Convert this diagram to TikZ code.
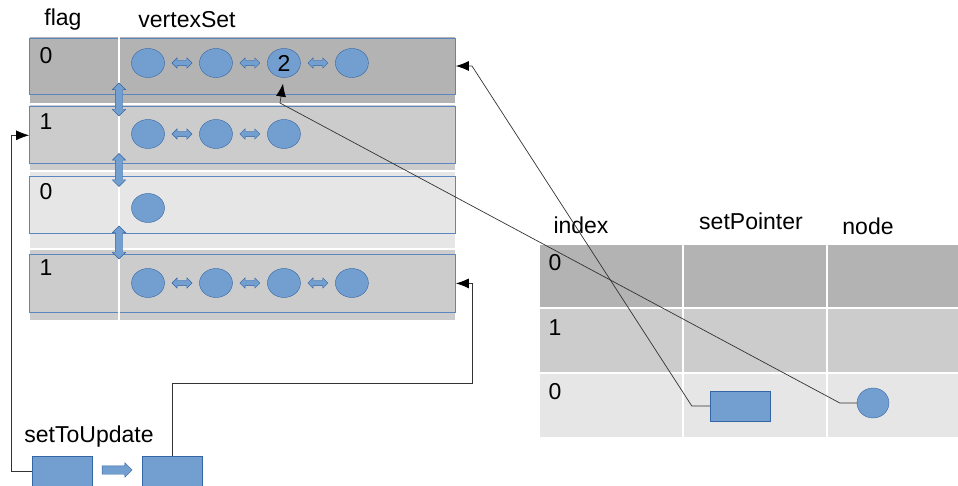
\documentclass[tikz,border=0pt]{standalone}
\usepackage{fontspec}
\setmainfont{Liberation Sans}
\usetikzlibrary{positioning,shapes.geometric,shapes.arrows,arrows.meta}

\definecolor{cellA}{HTML}{B3B3B3}
\definecolor{cellB}{HTML}{CCCCCC}
\definecolor{cellC}{HTML}{E6E6E6}
\definecolor{vfill}{HTML}{729FCF}
\definecolor{vline}{HTML}{3465A4}
\definecolor{rowline}{HTML}{5B86BF}

\tikzset{
  vtx/.style={ellipse, draw=vline, fill=vfill, minimum width=33pt, minimum height=29pt, inner sep=0pt},
  dbl/.style={double arrow, draw=vline, fill=vfill, minimum height=20pt, inner xsep=0pt, inner ysep=2.5pt,
              double arrow head extend=2.5pt},
  vdbl/.style={dbl, minimum height=33pt, inner ysep=3.5pt, double arrow head extend=3pt, rotate=90},
  rowbox/.style={draw=rowline, line width=0.8pt, minimum width=426pt, inner sep=0pt},
  blk/.style={rectangle, draw=vline, fill=vfill, minimum width=60pt, minimum height=30pt, inner sep=0pt},
  lbl/.style={font=\fontsize{23}{26}\selectfont, inner sep=0pt},
  conn/.style={draw=black!80, line width=0.7pt},
  tip/.style={-{Latex[length=13pt,width=10pt,black]}}
}

\begin{document}
\begin{tikzpicture}[x=1pt,y=-1pt,font=\fontsize{23}{26}\selectfont]
\useasboundingbox (0,0) rectangle (958,486);

% left table behind the rows
\fill[cellA] (30,37) rectangle (455,104);
\fill[cellB] (30,104) rectangle (455,171);
\fill[cellC] (30,171) rectangle (455,249);
\fill[cellB] (30,249) rectangle (455,320);
\draw[white, line width=1.5pt] (30,104) -- (455,104) (30,171) -- (455,171) (30,249) -- (455,249);

\node[lbl] (hflag) at (63,20) {flag};
\node[lbl] (hset)  at (187,20) {vertexSet};

% rows
\node[rowbox, fill=cellA, minimum height=56pt] (row0) at (242.5,66) {};
\node[rowbox, fill=cellB, minimum height=57pt, below=12pt of row0] (row1) {};
\node[rowbox, fill=cellC, minimum height=57pt, below=12pt of row1] (row2) {};
\node[rowbox, fill=cellB, minimum height=58pt, below=20pt of row2] (row3) {};
\draw[white, line width=1.2pt] (119,37) -- (119,320);

\node[lbl] (f0) at (46,56)  {0};
\node[lbl] (f1) at (46,122) {1};
\node[lbl] (f2) at (46,192) {0};
\node[lbl] (f3) at (46,268) {1};

% vertex lists
\node[vtx] (v00) at (148,63) {};
\node[dbl, right=7pt of v00] (a00) {};
\node[vtx, right=7pt of a00] (v01) {};
\node[dbl, right=7pt of v01] (a01) {};
\node[vtx, right=7pt of a01] (v02) {2};
\node[dbl, right=7pt of v02] (a02) {};
\node[vtx, right=7pt of a02] (v03) {};

\node[vtx] (v10) at (148,134) {};
\node[dbl, right=7pt of v10] (a10) {};
\node[vtx, right=7pt of a10] (v11) {};
\node[dbl, right=7pt of v11] (a11) {};
\node[vtx, right=7pt of a11] (v12) {};

\node[vtx] (v20) at (148,208) {};

\node[vtx] (v30) at (148,283) {};
\node[dbl, right=7pt of v30] (a30) {};
\node[vtx, right=7pt of a30] (v31) {};
\node[dbl, right=7pt of v31] (a31) {};
\node[vtx, right=7pt of a31] (v32) {};
\node[dbl, right=7pt of v32] (a32) {};
\node[vtx, right=7pt of a32] (v33) {};

\node[vdbl] (l01) at (119,99.5)  {};
\node[vdbl] (l12) at (119,170)   {};
\node[vdbl] (l23) at (119,242.5) {};

% right table
\fill[cellA] (540,245) rectangle (958,308);
\fill[cellB] (540,308) rectangle (958,373);
\fill[cellC] (540,373) rectangle (958,437);
\draw[white, line width=1.5pt] (540,308) -- (958,308) (540,373) -- (958,373)
  (683,245) -- (683,437) (827,245) -- (827,437);

\node[lbl] (hidx) at (581,225) {index};
\node[lbl] (hptr) at (751,221) {setPointer};
\node[lbl] (hnd)  at (868,226) {node};
\node[lbl] (i0) at (555,263) {0};
\node[lbl] (i1) at (555,328) {1};
\node[lbl] (i2) at (555,392) {0};

\node[blk] (sp) at (740,406) {};
\node[vtx, minimum width=32pt, minimum height=30pt] (nd) at (873,403) {};

% setToUpdate
\node[lbl] (hupd) at (89,437) {setToUpdate};
\node[blk] (u1) at (62,471) {};
\node[single arrow, draw=vline, fill=vfill, minimum height=30pt, inner xsep=0pt, inner ysep=4pt,
      single arrow head extend=3pt] (ua) at (115,470) {};
\node[blk] (u2) at (172,471) {};

% connectors
\draw[conn, tip] (sp.west) -- ++(-18,0) -- (472,66) -- (row0.east);
\draw[conn, tip, shorten >=6pt] (nd.west) -- ++(-17,0) -- (280,103) -- (v02.south);
\draw[conn, tip] (u1.west) -- ++(-20,0) |- (row1.west);
\draw[conn, tip] (u2.north) -- (172,383) -- (472,383) |- (row3.east);
\end{tikzpicture}
\end{document}
